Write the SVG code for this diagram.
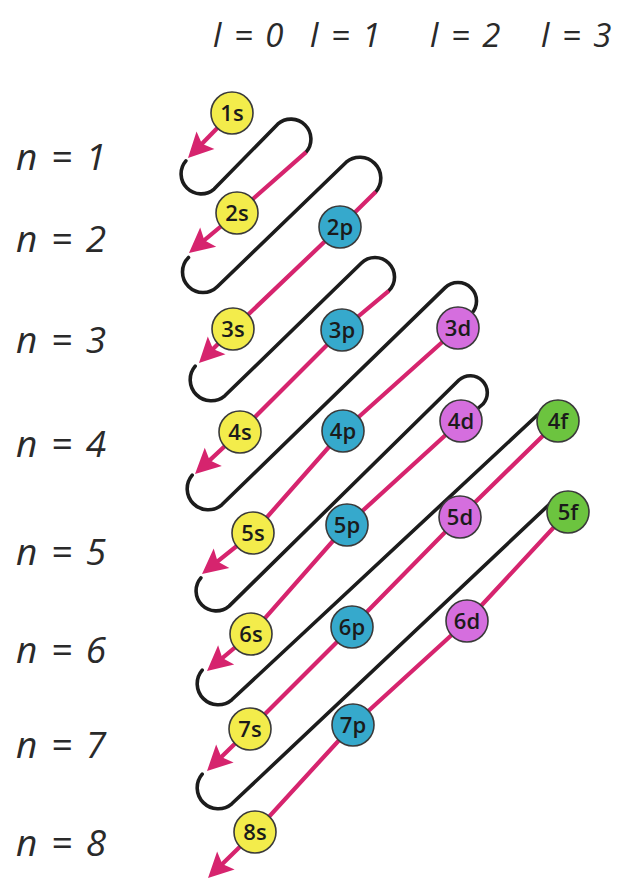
<svg xmlns="http://www.w3.org/2000/svg" width="621" height="882" viewBox="0 0 621 882">
<style>
.lab{font-family:"Open Sans","Liberation Sans",sans-serif;font-style:italic;fill:#2a2a2a;letter-spacing:2px}
.top{font-size:33px}
.left{font-size:37px}
.blk{fill:none;stroke:#1c1c1c;stroke-width:3.6;stroke-linecap:round;stroke-linejoin:round}
.pnk{fill:none;stroke:#d6246e;stroke-width:4.2;stroke-linejoin:round}
.nd circle{stroke:#3a3a3a;stroke-width:1.6}
.nd text{font-family:"Open Sans","Liberation Sans",sans-serif;font-size:22px;font-weight:600;fill:#1b1b1b;text-anchor:middle}
.s circle{fill:#f3ec4b}
.p circle{fill:#36a9cc}
.d circle{fill:#d56ede}
.f circle{fill:#6cc43f}
</style>
<defs>
<marker id="ah" markerUnits="userSpaceOnUse" markerWidth="30" markerHeight="28" viewBox="-27 -14 30 28" refX="-6" refY="0" orient="auto">
<path d="M0,0 L-25,-12.5 L-20,0 L-25,12.5 Z" fill="#d6246e"/>
</marker>
</defs>
<rect width="621" height="882" fill="#ffffff"/>
<g id="labels">
<text class="lab top" x="213" y="47">l = 0</text>
<text class="lab top" x="310" y="47">l = 1</text>
<text class="lab top" x="430" y="47">l = 2</text>
<text class="lab top" x="541" y="47">l = 3</text>
<text class="lab left" x="16" y="170">n = 1</text>
<text class="lab left" x="16" y="252">n = 2</text>
<text class="lab left" x="16" y="353">n = 3</text>
<text class="lab left" x="16" y="457">n = 4</text>
<text class="lab left" x="16" y="565">n = 5</text>
<text class="lab left" x="16" y="663">n = 6</text>
<text class="lab left" x="16" y="758">n = 7</text>
<text class="lab left" x="16" y="856">n = 8</text>
</g>
<g id="connectors">
<path class="blk" d="M185.9,160.9 A20,20 0 0 0 214.1,189.1 L277.9,123.9 A20,20 0 0 1 306.1,152.1"/>
<path class="blk" d="M188.5,257.5 A20.5,20.5 0 0 0 217.5,286.5 L346.2,162.2 A21,21 0 0 1 375.8,191.8"/>
<path class="blk" d="M195.2,366.2 A21,21 0 0 0 224.8,395.8 L361.2,263.2 A19.5,19.5 0 0 1 388.8,290.8"/>
<path class="blk" d="M192.2,475.2 A21,21 0 0 0 221.8,504.8 L444.9,287.9 A18.5,18.5 0 0 1 471.1,314.1"/>
<path class="blk" d="M200.9,577.9 A20,20 0 0 0 229.1,606.1 L459,380 A17,17 0 0 1 483,404 L476,410"/>
<path class="blk" d="M202.2,670.2 A21,21 0 0 0 231.8,699.8 L545,408"/>
<path class="blk" d="M202.2,774.2 A21,21 0 0 0 231.8,803.8 L555,499"/>
<path class="pnk" marker-end="url(#ah)" d="M232,113 L192.2,153.8"/>
<path class="pnk" marker-end="url(#ah)" d="M306.1,152.1 L237,213 L193.6,249.2"/>
<path class="pnk" marker-end="url(#ah)" d="M375.8,191.8 L340,227 L233,329 L203.2,358.8"/>
<path class="pnk" marker-end="url(#ah)" d="M388.8,290.8 L342,330 L240,432 L199.4,469.9"/>
<path class="pnk" marker-end="url(#ah)" d="M471.1,314.1 L458,328 L343,431 L253,533 L206.7,570.2"/>
<path class="pnk" marker-end="url(#ah)" d="M461,421 L347,525 L251,634 L211.6,667.1"/>
<path class="pnk" marker-end="url(#ah)" d="M558,421 L460,517 L352,627 L250,729 L211.3,766.8"/>
<path class="pnk" marker-end="url(#ah)" d="M568,512 L467,621 L353,725 L255,832 L212.3,873.8"/>
</g>
<g id="n1s" class="nd s"><circle cx="232" cy="113" r="21"/><text x="232" y="121">1s</text></g>
<g id="n2s" class="nd s"><circle cx="237" cy="213" r="21"/><text x="237" y="221">2s</text></g>
<g id="n2p" class="nd p"><circle cx="340" cy="227" r="21"/><text x="340" y="235">2p</text></g>
<g id="n3s" class="nd s"><circle cx="233" cy="329" r="21"/><text x="233" y="337">3s</text></g>
<g id="n3p" class="nd p"><circle cx="342" cy="330" r="21"/><text x="342" y="338">3p</text></g>
<g id="n3d" class="nd d"><circle cx="458" cy="328" r="21"/><text x="458" y="336">3d</text></g>
<g id="n4s" class="nd s"><circle cx="240" cy="432" r="21"/><text x="240" y="440">4s</text></g>
<g id="n4p" class="nd p"><circle cx="343" cy="431" r="21"/><text x="343" y="439">4p</text></g>
<g id="n4d" class="nd d"><circle cx="461" cy="421" r="21"/><text x="461" y="429">4d</text></g>
<g id="n4f" class="nd f"><circle cx="558" cy="421" r="21"/><text x="558" y="429">4f</text></g>
<g id="n5s" class="nd s"><circle cx="253" cy="533" r="21"/><text x="253" y="541">5s</text></g>
<g id="n5p" class="nd p"><circle cx="347" cy="525" r="21"/><text x="347" y="533">5p</text></g>
<g id="n5d" class="nd d"><circle cx="460" cy="517" r="21"/><text x="460" y="525">5d</text></g>
<g id="n5f" class="nd f"><circle cx="568" cy="512" r="21"/><text x="568" y="520">5f</text></g>
<g id="n6s" class="nd s"><circle cx="251" cy="634" r="21"/><text x="251" y="642">6s</text></g>
<g id="n6p" class="nd p"><circle cx="352" cy="627" r="21"/><text x="352" y="635">6p</text></g>
<g id="n6d" class="nd d"><circle cx="467" cy="621" r="21"/><text x="467" y="629">6d</text></g>
<g id="n7s" class="nd s"><circle cx="250" cy="729" r="21"/><text x="250" y="737">7s</text></g>
<g id="n7p" class="nd p"><circle cx="353" cy="725" r="21"/><text x="353" y="733">7p</text></g>
<g id="n8s" class="nd s"><circle cx="255" cy="832" r="21"/><text x="255" y="840">8s</text></g>
</svg>
